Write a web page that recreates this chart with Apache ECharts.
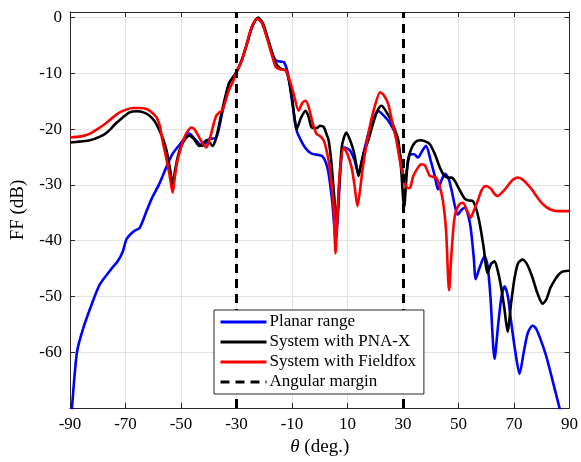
<!DOCTYPE html>
<html>
<head>
<meta charset="utf-8">
<script src="https://cdn.jsdelivr.net/npm/echarts@6/dist/echarts.min.js"></script>
<style>
html, body { margin: 0; padding: 0; background: #fff; }
#chart { width: 581px; height: 462px; }
</style>
</head>
<body>
<div id="chart"></div>
<script>
// values: [theta (deg), FF (dB)]
var planarRange = [[-90,-75],[-89.3,-70],[-87.5,-60],[-85.3,-55.8],[-81.8,-50.9],[-79.2,-47.8],[-75,-45],[-72.8,-43.7],[-71,-42],[-69.6,-39.7],[-67,-38.3],[-64.9,-37.7],[-62.4,-34.7],[-60.6,-32.5],[-58,-30],[-55,-26.5],[-53,-24.4],[-50,-22.5],[-47,-20.8],[-45,-21.8],[-42.3,-23],[-40,-21.8],[-37.3,-21.5],[-35.2,-17.2],[-32.7,-11.8],[-30.5,-10.2],[-28,-7.5],[-26.6,-5.3],[-24.4,-1.7],[-22.6,-0.2],[-20.8,-1],[-19,-3.5],[-17.2,-6.4],[-15.8,-7.7],[-14,-7.9],[-12.9,-8],[-11.5,-10],[-10,-14.9],[-8.3,-20.3],[-6.8,-22],[-5,-23.5],[-2.9,-24.4],[0.7,-24.8],[2.2,-26],[3.2,-28],[4.5,-33],[5.8,-40],[6.6,-35],[7.5,-27],[8.6,-23.3],[10,-23.5],[11,-23.9],[12.5,-25.5],[14,-28],[15.5,-25],[17.5,-20.8],[19.5,-18],[21,-16.7],[22.5,-17.3],[24.7,-18.5],[27.2,-20.8],[28.8,-24],[30,-28],[30.8,-28.7],[31.8,-26],[32.6,-24.5],[34,-24.5],[35.4,-25.1],[36.8,-24],[38.3,-23],[40,-25.7],[41.5,-28.5],[42.6,-30.8],[44,-29],[45.1,-28],[46.5,-29],[47.3,-30.5],[49.8,-35.3],[51,-34.5],[52.3,-34.1],[53.5,-35.5],[54.4,-37.7],[55.5,-43],[56.2,-46.9],[57.5,-45],[59.4,-42.8],[60.5,-44.5],[61.5,-50],[63,-61.2],[64.3,-55],[65.5,-50],[66.6,-48.2],[67.8,-50],[68.8,-53.9],[70.5,-60],[72,-63.9],[73.5,-60],[75,-56.5],[76.7,-55.2],[78,-55.8],[79.5,-57.6],[81.5,-60.5],[83.1,-63.5],[86.3,-69.8],[88,-73],[90,-78]];

var pnaX = [[-90,-22.4],[-86,-22.2],[-82.8,-22],[-79,-21.3],[-76.7,-20.6],[-73.5,-19],[-71,-17.9],[-68.5,-17],[-66,-16.8],[-63.5,-17],[-61.3,-17.6],[-59.5,-18.6],[-57.7,-20.3],[-56.3,-22],[-55.2,-23.9],[-54,-27],[-53,-29.9],[-52,-27],[-50.6,-23.9],[-48.8,-22],[-47,-21.2],[-45.3,-21.8],[-43.4,-23],[-42,-22.6],[-40.9,-22],[-39.6,-22.5],[-38.7,-23],[-37.8,-22.3],[-37,-20.9],[-35.2,-16.7],[-32.7,-11.8],[-30,-9.8],[-28,-7.5],[-26.6,-5.3],[-24.4,-1.7],[-22.2,0],[-20.5,-1],[-19,-3.3],[-17.2,-6.2],[-15.8,-8.2],[-14,-9.2],[-12.2,-9.5],[-11,-11.5],[-10,-14.3],[-8.3,-20],[-6.8,-18],[-5.1,-16.7],[-4,-17.8],[-2.9,-19.7],[-1,-19.8],[0,-19.4],[1.4,-19.6],[2.5,-21],[3.2,-22],[4.2,-26],[5.2,-32],[6.1,-36.8],[7,-30],[8,-23],[9.6,-20.6],[10.8,-21.8],[12.2,-23.9],[13.2,-26.5],[14,-28.4],[14.8,-26.5],[16,-24],[17.5,-22],[19.5,-18.5],[21,-16.5],[22.2,-15.8],[23.5,-16.5],[25.8,-18.5],[27,-20],[28.3,-22],[29.3,-27],[30.4,-34],[31.2,-29],[31.8,-25.5],[33,-23.5],[34.5,-22.3],[36.2,-22],[38,-22.2],[39.7,-22.7],[41.5,-24.5],[43.3,-26.9],[44.8,-28.3],[46.2,-28.7],[47.5,-28.7],[48.7,-29.3],[50.5,-31],[52.3,-32.5],[53.8,-32.8],[55.2,-32.9],[56.5,-34.5],[57.7,-37.1],[59,-41],[60.5,-45.8],[61.7,-44.2],[63,-43.7],[64.2,-45.5],[65.2,-47.9],[66.5,-52],[67.7,-56.3],[69,-51],[70.2,-46.7],[71.5,-44],[73.1,-43.4],[75,-44.5],[76.7,-46.7],[78.5,-49.5],[80.3,-51.3],[81.7,-50.5],[83.1,-48.5],[85,-46.8],[86.7,-45.8],[88,-45.5],[90,-45.4]];

var fieldfox = [[-90,-21.5],[-86,-21.3],[-82.8,-20.8],[-79.5,-19.8],[-76.7,-18.8],[-74.3,-17.8],[-72.1,-17],[-69.7,-16.5],[-67.4,-16.2],[-64.9,-16.2],[-62.4,-16.4],[-60.5,-17],[-58.8,-17.9],[-57.6,-19.5],[-56.7,-22],[-55.4,-25],[-54.2,-28],[-53,-31.4],[-52.2,-28.5],[-51.3,-25.7],[-50,-23.3],[-48.8,-21.5],[-47.5,-20.3],[-46.3,-19.7],[-45.2,-20],[-44.1,-20.9],[-42.5,-22.3],[-40.9,-23.3],[-40,-22.3],[-39.1,-20.8],[-38.2,-19],[-37.3,-17.6],[-36.2,-17],[-35.2,-16.7],[-34,-15],[-32.7,-13],[-31.3,-11.5],[-30.1,-10],[-28,-7.5],[-26.6,-5.3],[-24.4,-1.5],[-22.4,-0.2],[-20.8,-1],[-19,-3.7],[-17.2,-6.8],[-15.8,-8.9],[-14,-9.3],[-12.2,-9.5],[-11,-11],[-9.5,-13.5],[-7.6,-16.7],[-6.3,-15.3],[-5.1,-14.9],[-4,-16],[-2.5,-19],[-1.1,-20.9],[0,-21.2],[1.4,-22],[2.3,-23.5],[3.2,-25.7],[4.2,-29.5],[5,-34],[5.7,-42.3],[6.4,-35],[7.2,-28],[8.6,-23.3],[10,-24.5],[11.5,-26.9],[12.5,-30],[13.6,-33.8],[14.5,-31],[15.5,-27],[17.5,-20.9],[19.5,-16.5],[21.8,-13.4],[23.2,-14],[24.7,-15.5],[26,-18.5],[27.6,-22],[29,-26],[30.8,-29.9],[31.8,-30.6],[32.6,-30.5],[33.7,-28.4],[35.4,-26.9],[36.5,-26.3],[37.9,-26.5],[39.7,-28.4],[41.9,-28.7],[43.2,-30.2],[44.4,-32.9],[45.5,-38],[46.6,-48.9],[47.5,-42],[48.4,-36.5],[49.1,-34.7],[50.3,-33.5],[51.6,-33.2],[53,-34.5],[54.4,-35.9],[55.6,-34.5],[56.9,-32.9],[58.3,-31],[59.8,-30.2],[61.5,-30.6],[62.8,-31.5],[64.1,-32],[66,-31.2],[67.7,-30.2],[69.5,-29.1],[71.3,-28.7],[73,-29],[74.9,-29.9],[76.7,-31],[78.5,-32.3],[80.5,-33.5],[83.1,-34.4],[86,-34.7],[89.2,-34.7],[90,-34.7]];

var angularMargin = [-30, 30];
var seriesNames = ['Planar range', 'System with PNA-X', 'System with Fieldfox', 'Angular margin'];

var font = 'Liberation Serif';
var axisColor = '#262626';
var gridColor = '#e3e3e3';

function xAx(pos) {
    return {
        type: 'value', position: pos, min: -90, max: 90, interval: 20,
        axisLine: {show: true, onZero: false, lineStyle: {color: axisColor, width: 1}},
        axisTick: {show: true, inside: true, length: 5, lineStyle: {color: axisColor}},
        axisLabel: {show: pos == 'bottom', color: '#000', fontFamily: font, fontSize: 17, margin: 8},
        splitLine: {show: pos == 'bottom', lineStyle: {color: gridColor}}
    }
}
function yAx(pos) {
    return {
        type: 'value', position: pos, min: -70, max: 1, interval: 10,
        axisLine: {show: true, onZero: false, lineStyle: {color: axisColor, width: 1}},
        axisTick: {show: true, inside: true, length: 5, lineStyle: {color: axisColor}},
        axisLabel: {show: pos == 'left', color: '#000', fontFamily: font, fontSize: 17, margin: 8, showMinLabel: false, showMaxLabel: false},
        splitLine: {show: pos == 'left', lineStyle: {color: gridColor}}
    }
}

var dom = document.getElementById('chart')
var chart = echarts.init(dom)
var xBottom = xAx('bottom')
xBottom.name = '{i|θ} (deg.)'
xBottom.nameLocation = 'middle'
xBottom.nameGap = 29
xBottom.nameTextStyle = {color: '#000', fontFamily: font, fontSize: 19, rich: {i: {fontStyle: 'italic', fontFamily: font, fontSize: 19}}}
var yLeft = yAx('left')
yLeft.name = 'FF (dB)'
yLeft.nameLocation = 'middle'
yLeft.nameGap = 42
yLeft.nameTextStyle = {color: '#000', fontFamily: font, fontSize: 19}

function curve(name, data, color) {
    return {
        name: name, type: 'line', data: data, symbol: 'none', smooth: 0.25,
        lineStyle: {color: color, width: 2.6}, itemStyle: {color: color},
        clip: true
    }
}

var option = {
    animation: false,
    grid: {left: 70, right: 9, top: 12, bottom: 54},
    xAxis: [xBottom, xAx('top')],
    yAxis: [yLeft, yAx('right')],
    legend: {
        data: seriesNames,
        orient: 'vertical',
        left: 214, top: 310,
        z: 20,
        backgroundColor: '#fff',
        borderColor: axisColor, borderWidth: 1, borderRadius: 0,
        padding: [2, 8, 2, 5],
        itemWidth: 46, itemHeight: 12, itemGap: 0,
        itemStyle: {opacity: 0},
        lineStyle: {width: 3},
        textStyle: {color: '#000', fontFamily: font, fontSize: 17, lineHeight: 20, padding: [0, 0, 0, -2]}
    },
    series: [
        curve(seriesNames[0], planarRange, '#0000ff'),
        curve(seriesNames[1], pnaX, '#000000'),
        curve(seriesNames[2], fieldfox, '#ff0000'),
        {
            name: seriesNames[3], type: 'line', data: [], symbol: 'none',
            lineStyle: {color: '#000', width: 3, type: [9, 6]}, itemStyle: {color: '#000'},
            markLine: {
                silent: true, symbol: 'none', label: {show: false},
                lineStyle: {color: '#000', width: 3, type: [9, 6]},
                data: angularMargin.map(function (v) { return {xAxis: v} })
            }
        }
    ]
}
chart.setOption(option)
</script>
</body>
</html>
